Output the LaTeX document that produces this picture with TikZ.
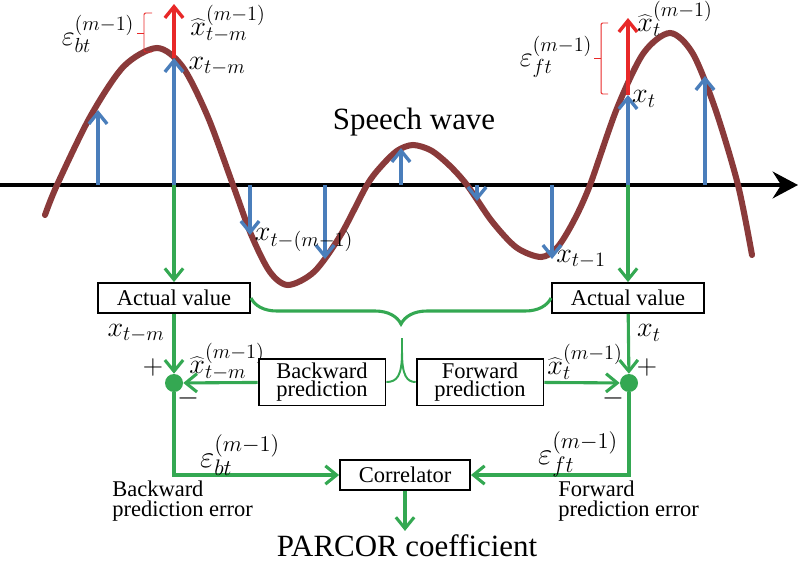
\RequirePackage{fix-cm}
\documentclass[tikz,border=0pt]{standalone}
\usepackage{fontspec}
\setmainfont{Liberation Serif}
\usetikzlibrary{arrows.meta}
\usetikzlibrary{decorations.pathreplacing}
\DeclareMathSizes{20}{20}{14.5}{10}
\DeclareMathSizes{22}{22}{16}{11}
\definecolor{wavebrown}{RGB}{138,58,58}
\definecolor{sampleblue}{RGB}{74,126,187}
\definecolor{estred}{RGB}{232,40,40}
\definecolor{flowgreen}{RGB}{52,168,82}

\begin{document}
\begin{tikzpicture}[x=0.025cm, y=-0.025cm,
            box/.style={draw, line width=1.3pt, inner sep=0pt, align=center,
                font=\fontsize{16}{12.5}\selectfont},
            lbl/.style={inner sep=0pt, font=\fontsize{20}{22}\selectfont},
            biglbl/.style={inner sep=0pt, font=\fontsize{22}{24}\selectfont},
            note/.style={anchor=west, align=left, inner sep=0pt,
                font=\fontsize{16}{14}\selectfont},
            headline/.style={inner sep=1pt, font=\fontsize{22}{24}\selectfont},
            sumpt/.style={circle, fill=flowgreen, minimum size=0.45cm, inner sep=0pt},
            wave/.style={line width=4.3pt, wavebrown, line cap=round},
            sample/.style={-{Straight Barb[length=8pt, width=13pt]}, line width=2.4pt, sampleblue},
            est/.style={-{Straight Barb[length=8pt, width=13pt]}, line width=2.4pt, estred},
            arrow/.style={-{Straight Barb[length=8pt, width=13pt]}, line width=2.2pt, flowgreen},
            link/.style={line width=2.2pt, flowgreen},
            errbrace/.style={line width=0.7pt, estred, rounded corners=1pt},
        ]
            \useasboundingbox (0,0) rectangle (800,566);

            % speech wave and its samples
            \draw[line width=2.8pt, -{Stealth[length=18pt, width=19pt, inset=6pt]}] (0,185) -- (798,185);
            \draw[wave] plot[smooth, tension=0.5] coordinates {(45,215) (57,185) (90.3,116.5) (123.7,66.4)
                (157,48) (182.3,66.4) (207.7,116.5) (233,185) (251.3,235) (269.7,271.6) (288,285)
                (314.3,271.6) (340.7,235) (367,185) (382.3,165) (397.7,150.4) (413,145) (431,150.4)
                (449,165) (467,185) (491.7,221) (516.3,247.4) (541,257) (557.3,247.4) (573.7,221)
                (590,185) (616.7,109) (643.3,53.4) (670,33) (692.7,53.4) (715.3,109) (738,185) (752,255)};
            \foreach \x/\y in {98/110, 174/58, 250/235, 325/259, 401/148, 477/201, 552/259, 628/95, 705/76}
                \draw[sample] (\x,185) -- (\x,\y);
            \node[headline] (speech) at (414,122) {Speech wave};

            \coordinate (axm) at (174,185);
            \coordinate (axt) at (628,185);
            \coordinate (xtm) at (174,58);
            \coordinate (xt) at (628,95);
            \coordinate (xhtm) at (174,4);
            \coordinate (xht) at (628,18);
            \draw[est] (xtm) -- (xhtm);
            \draw[est] (xt) -- (xht);
            \draw[errbrace] (152,13) -- (144,13) -- (144,52) -- (152,52);
            \draw[errbrace] (144,33) -- (137,33);
            \draw[errbrace] (608,23) -- (601,23) -- (601,94) -- (608,94);
            \draw[errbrace] (601,58) -- (594,58);

            \node[lbl] (lxhtm) at (228,24) {$\widehat{x}_{t-m}^{(m-1)}$};
            \node[lbl] (lxtm) at (217,66) {$x_{t-m}$};
            \node[lbl] (lebt) at (98,34) {$\varepsilon_{bt}^{(m-1)}$};
            \node[lbl] (lxtm1) at (304,240) {$x_{t-(m-1)}$};
            \node[lbl] (lxt1) at (581,259) {$x_{t-1}$};
            \node[lbl] (lxt) at (644,99) {$x_t$};
            \node[lbl] (lxht) at (675,19) {$\widehat{x}_t^{(m-1)}$};
            \node[lbl] (left) at (556,57) {$\varepsilon_{ft}^{(m-1)}$};

            % prediction and correlation
            \node[box, minimum width=3.8cm, minimum height=0.75cm] (actualL) at (174,298) {Actual value};
            \node[box, minimum width=3.8cm, minimum height=0.75cm] (actualR) at (628,298) {Actual value};
            \node[box, minimum width=3.17cm, minimum height=1.17cm] (backpred) at (322,382) {Backward\\prediction};
            \node[box, minimum width=3.17cm, minimum height=1.17cm] (forpred) at (480,382) {Forward\\prediction};
            \node[box, minimum width=3.25cm, minimum height=0.75cm] (corr) at (405,475) {Correlator};
            \node[sumpt] (sumL) at (174,383) {};
            \node[sumpt] (sumR) at (629,383) {};
            \node[headline] (parcor) at (407,546) {PARCOR coefficient};

            \draw[arrow] (axm) -- (actualL);
            \draw[arrow] (axt) -- (actualR);
            \draw[link, decorate, decoration={brace, amplitude=0.65cm, mirror}] (actualL.east) -- (actualR.west);
            \coordinate (split) at (402,338);
            \draw[line width=1.4pt, flowgreen] (split) -- (402,352) .. controls (402,376) and (397,382) .. (backpred.east);
            \draw[line width=1.4pt, flowgreen] (split) -- (402,352) .. controls (402,376) and (407,382) .. (forpred.west);

            \draw[arrow] (actualL) -- (sumL);
            \draw[arrow] (actualR) -- (sumR);
            \draw[arrow] (backpred) -- (sumL);
            \draw[arrow] (forpred) -- (sumR);
            \draw[arrow] (sumL) |- (corr);
            \draw[arrow] (sumR) |- (corr);
            \draw[arrow] (corr.south) -- ++(0,-1.0cm);

            \node[lbl] (bxtm) at (136,333) {$x_{t-m}$};
            \node[lbl] (bxhtm) at (227,362) {$\widehat{x}_{t-m}^{(m-1)}$};
            \node[lbl] (plusL) at (153,367) {$+$};
            \node[lbl] (minusL) at (188,398) {$-$};
            \node[lbl] (bxt) at (649,333) {$x_t$};
            \node[lbl] (bxht) at (585,362) {$\widehat{x}_t^{(m-1)}$};
            \node[lbl] (plusR) at (647,367) {$+$};
            \node[lbl] (minusR) at (613,398) {$-$};
            \node[biglbl] (bebt) at (240,455) {$\varepsilon_{bt}^{(m-1)}$};
            \node[biglbl] (beft) at (578,454) {$\varepsilon_{ft}^{(m-1)}$};
            \node[note] (backerr) at (112,501) {Backward\\prediction error};
            \node[note] (forerr) at (558,501) {Forward\\prediction error};
        \end{tikzpicture}
\end{document}
